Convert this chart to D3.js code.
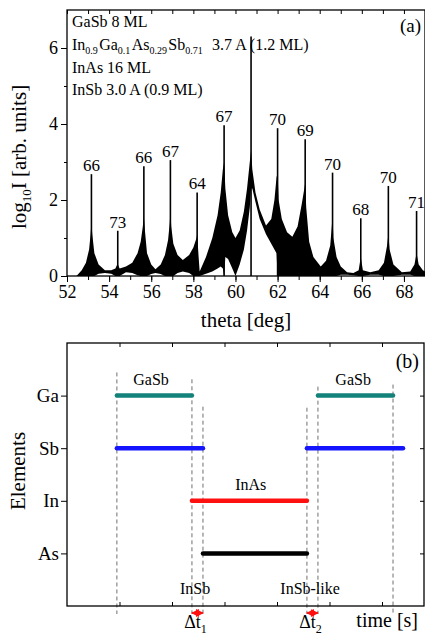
<!DOCTYPE html>
<html lang="en">
<head>
<meta charset="UTF-8">
<title>XRD + shutter sequence</title>
<script src="https://cdn.jsdelivr.net/npm/d3@7"></script>
<style>
  body { margin: 0; background: #fff; }
  svg text { font-family: "Liberation Serif", "Times New Roman", serif; fill: #000; }
  .frame { fill: none; stroke: #000; stroke-width: 1.3px; }
  .tick line { stroke: #000; }
  .dash { stroke: #6f6f6f; stroke-width: 1px; stroke-dasharray: 4,3; }
</style>
</head>
<body>
<div id="chart"></div>
<script>
// ---- panel (a) data: black envelope of the simulated curve ----
var theta = [52.45, 52.7, 52.9, 53.05, 53.12, 53.16, 53.2, 53.3, 53.5, 53.8, 54.1, 54.3, 54.4, 54.5, 54.8, 55.1,
  55.35, 55.5, 55.6, 55.65, 55.7, 55.8, 56.0, 56.2, 56.45, 56.65, 56.8, 56.88, 56.91, 56.95, 57.05, 57.25,
  57.5, 57.8, 58.0, 58.15, 58.18, 58.25, 58.3, 58.6, 58.9, 59.15, 59.3, 59.4, 59.46, 59.52, 59.65, 59.85,
  60.0, 60.2, 60.4, 60.55, 60.68, 60.74, 60.8, 60.95, 61.15, 61.45, 61.7, 61.85, 61.95, 62.0, 62.05, 62.2,
  62.45, 62.7, 62.95, 63.15, 63.27, 63.31, 63.36, 63.5, 63.7, 64.05, 64.3, 64.5, 64.61, 64.65, 64.8, 65.0,
  65.3, 65.6, 65.85, 65.95, 66.05, 66.4, 66.8, 67.05, 67.2, 67.26, 67.32, 67.5, 67.9, 68.3, 68.5, 68.6,
  68.7, 68.9, 69.0];
var upper = [0, 0.15, 0.35, 0.7, 1.1, 1.4, 1.1, 0.6, 0.3, 0.15, 0.15, 0.2, 0.32, 0.2, 0.25, 0.35,
  0.6, 0.9, 1.3, 1.55, 1.2, 0.6, 0.3, 0.18, 0.3, 0.55, 0.95, 1.4, 1.7, 1.3, 0.85, 0.55,
  0.42, 0.55, 0.75, 1.0, 1.1, 0.5, 0.12, 0.5, 1.0, 1.6, 2.2, 2.8, 3.0, 2.3, 1.6, 1.15,
  1.0, 1.2, 1.7, 2.3, 3.0, 3.3, 2.8, 2.2, 1.75, 1.33, 1.5, 2.0, 2.6, 2.7, 2.0, 1.5,
  1.15, 1.03, 1.3, 1.9, 2.3, 2.45, 1.8, 0.9, 0.5, 0.25, 0.4, 0.8, 1.55, 1.0, 0.5, 0.25,
  0.1, 0.08, 0.15, 0.5, 0.15, 0.1, 0.15, 0.35, 0.8, 1.1, 0.7, 0.3, 0.1, 0.12, 0.3, 0.6,
  0.3, 0.15, 0.12];
var lower = [0, 0, 0, 0, 0, 0, 0, 0, 0.06, 0.08, 0.06, 0, 0, 0, 0.1, 0.08,
  0.02, 0, 0, 0, 0, 0, 0.05, 0.08, 0.05, 0, 0, 0, 0, 0, 0, 0.08,
  0.12, 0.08, 0, 0, 0, 0, 0, 0.06, 0.12, 0.2, 0.25, 0.2, 0, 0.5, 0.45, 0.2,
  0, 0.3, 0.7, 1.2, 1.8, 2.3, 2.3, 1.95, 1.5, 1.1, 0.85, 0.7, 0.6, 0, 0, 0,
  0, 0, 0, 0, 0, 0, 0, 0, 0, 0, 0, 0, 0, 0, 0, 0.03,
  0.03, 0.02, 0, 0, 0, 0.03, 0.03, 0, 0, 0, 0, 0, 0.03, 0.03, 0, 0,
  0, 0, 0];

// narrow satellite spikes
var peakTheta = [53.16, 54.41, 55.65, 56.91, 58.18, 59.46, 60.74, 62.0, 63.31, 64.61, 65.95, 67.26, 68.6];
var peakTop   = [2.68, 1.19, 2.89, 3.05, 2.2, 3.97, 6.3, 3.89, 3.6, 2.72, 1.52, 2.37, 1.71];
var peakLabel = ["66", "73", "66", "67", "64", "67", "", "70", "69", "70", "68", "70", "71"];

var xTicksA = [52, 54, 56, 58, 60, 62, 64, 66, 68];
var yTicksA = [0, 2, 4, 6];

// ---- panel (b) data: shutter sequence ----
var elements = ["Ga", "Sb", "In", "As"];
var openings = [
  {el: "Ga", t0: 0.95, t1: 2.38}, {el: "Ga", t0: 4.78, t1: 6.21},
  {el: "Sb", t0: 0.95, t1: 2.59}, {el: "Sb", t0: 4.57, t1: 6.4},
  {el: "In", t0: 2.38, t1: 4.57},
  {el: "As", t0: 2.59, t1: 4.57}
];
var elColor = {Ga: "#13827a", Sb: "#1414ff", In: "#ff1010", As: "#000000"};
var eventTimes = [0.95, 2.38, 2.59, 4.57, 4.78, 6.21];
var eventTop   = [0.56, 0.69, 1.21, 1.23, 0.83, 0.79];   // in row units
var phaseLabels = [
  {text: "GaSb", t: 1.6, row: 0.8}, {text: "GaSb", t: 5.45, row: 0.8},
  {text: "InAs", t: 3.5, row: 2.8},
  {text: "InSb", t: 2.44, row: 4.77}, {text: "InSb-like", t: 4.63, row: 4.77}
];
var deltas = [{t0: 2.38, t1: 2.59, sub: "1"}, {t0: 4.57, t1: 4.78, sub: "2"}];

var W = 425, H = 638;
var svg = d3.select("#chart").append("svg").attr("width", W).attr("height", H);

// ================= panel (a) =================
var xa = d3.scaleLinear().domain([52, 69]).range([67, 425]);
var ya = d3.scaleLinear().domain([0, 7]).range([276, 10]);

svg.append("clipPath").attr("id", "clipA")
  .append("rect").attr("x", 67).attr("y", 10).attr("width", 358).attr("height", 266);

var gA = svg.append("g").attr("clip-path", "url(#clipA)");

var area = d3.area()
  .x(function(d, i) { return xa(theta[i]); })
  .y0(function(d, i) { return ya(lower[i]); })
  .y1(function(d, i) { return ya(upper[i]); });

gA.append("path").datum(theta).attr("d", area).attr("fill", "#000");

gA.selectAll("line.spike").data(peakTheta).enter().append("line")
  .attr("class", "spike")
  .attr("x1", function(d) { return xa(d); }).attr("x2", function(d) { return xa(d); })
  .attr("y1", ya(0)).attr("y2", function(d, i) { return ya(peakTop[i]); })
  .attr("stroke", "#000").attr("stroke-width", 1.6);

svg.selectAll("text.plab").data(peakTheta).enter().append("text")
  .attr("class", "plab")
  .attr("x", function(d) { return xa(d); })
  .attr("y", function(d, i) { return ya(peakTop[i]) - 3; })
  .attr("text-anchor", "middle").attr("font-size", 17)
  .text(function(d, i) { return peakLabel[i]; });

// axes
svg.append("g").attr("transform", "translate(0,276)")
  .call(d3.axisBottom(xa).tickValues(d3.range(52, 70, 1)).tickSize(4).tickFormat(""))
  .call(function(g) { g.select(".domain").remove(); });
svg.append("g").attr("transform", "translate(0,276)")
  .call(d3.axisBottom(xa).tickValues(xTicksA).tickSize(6).tickPadding(3).tickFormat(d3.format("d")))
  .call(function(g) { g.select(".domain").remove(); g.selectAll("text").attr("font-size", 18); });
svg.append("g").attr("transform", "translate(0,10)")
  .call(d3.axisBottom(xa).tickValues(d3.range(52, 70, 1)).tickSize(4).tickFormat(""))
  .call(function(g) { g.select(".domain").remove(); });

svg.append("g").attr("transform", "translate(67,0)")
  .call(d3.axisLeft(ya).tickValues([1, 3, 5]).tickSize(3).tickFormat(""))
  .call(function(g) { g.select(".domain").remove(); });
svg.append("g").attr("transform", "translate(67,0)")
  .call(d3.axisLeft(ya).tickValues(yTicksA).tickSize(6).tickPadding(3).tickFormat(d3.format("d")))
  .call(function(g) { g.select(".domain").remove(); g.selectAll("text").attr("font-size", 18); });

svg.append("rect").attr("class", "frame").attr("x", 67).attr("y", 10).attr("width", 358).attr("height", 266);

// axis titles
svg.append("text").attr("x", 246).attr("y", 327).attr("text-anchor", "middle")
  .attr("font-size", 21).text("theta [deg]");

var ylab = svg.append("text").attr("transform", "translate(26,157) rotate(-90)")
  .attr("text-anchor", "middle").attr("font-size", 21);
ylab.append("tspan").text("log");
ylab.append("tspan").attr("font-size", 13).attr("dy", 5).text("10");
ylab.append("tspan").attr("dy", -5).text("I [arb. units]");

// sample description
var info = svg.append("g").attr("font-size", 16);
info.append("text").attr("x", 72).attr("y", 27).text("GaSb 8 ML");
var l2 = info.append("text").attr("x", 72).attr("y", 50);
[["In", "0.9"], ["Ga", "0.1"], ["As", "0.29"], ["Sb", "0.71"]].forEach(function(p) {
  l2.append("tspan").text(p[0]);
  l2.append("tspan").attr("font-size", 10).attr("dy", 4).text(p[1]);
  l2.append("tspan").attr("dy", -4).text("\u200A");
});
l2.append("tspan").text("\u00A0 3.7 A (1.2 ML)");
info.append("text").attr("x", 72).attr("y", 72.5).text("InAs 16 ML");
info.append("text").attr("x", 72).attr("y", 95).text("InSb 3.0 A (0.9 ML)");

svg.append("text").attr("x", 421).attr("y", 32).attr("text-anchor", "end")
  .attr("font-size", 19).text("(a)");

// ================= panel (b) =================
var xb = d3.scaleLinear().domain([0, 6.8]).range([67, 424]);
var yb = d3.scaleLinear().domain([0, 5]).range([343, 606]);
var rowY = function(el) { return yb(elements.indexOf(el) + 1); };

// dashed time markers
svg.selectAll("line.dash").data(eventTimes).enter().append("line")
  .attr("class", "dash")
  .attr("x1", function(d) { return xb(d); }).attr("x2", function(d) { return xb(d); })
  .attr("y1", function(d, i) { return yb(eventTop[i]); }).attr("y2", 614);

// shutter bars
svg.selectAll("line.bar").data(openings).enter().append("line")
  .attr("class", "bar")
  .attr("x1", function(d) { return xb(d.t0); }).attr("x2", function(d) { return xb(d.t1); })
  .attr("y1", function(d) { return rowY(d.el); }).attr("y2", function(d) { return rowY(d.el); })
  .attr("stroke", function(d) { return elColor[d.el]; })
  .attr("stroke-width", 4.5).attr("stroke-linecap", "round");

svg.selectAll("text.phase").data(phaseLabels).enter().append("text")
  .attr("class", "phase")
  .attr("x", function(d) { return xb(d.t); }).attr("y", function(d) { return yb(d.row); })
  .attr("text-anchor", "middle").attr("font-size", 16)
  .text(function(d) { return d.text; });

// frame + ticks
svg.append("g").attr("transform", "translate(67,0)")
  .call(d3.axisLeft(yb).tickValues([1, 2, 3, 4]).tickSize(6).tickPadding(2)
    .tickFormat(function(d) { return elements[d - 1]; }))
  .call(function(g) { g.select(".domain").remove(); g.selectAll("text").attr("font-size", 19); });
svg.append("g").attr("transform", "translate(424,0)")
  .call(d3.axisRight(yb).tickValues([1, 2, 3, 4]).tickSize(-4).tickFormat(""))
  .call(function(g) { g.select(".domain").remove(); });
svg.append("g").attr("transform", "translate(0,343)")
  .call(d3.axisBottom(xb).tickValues(d3.range(1, 7)).tickSize(4).tickFormat(""))
  .call(function(g) { g.select(".domain").remove(); });
svg.append("g").attr("transform", "translate(0,606)")
  .call(d3.axisTop(xb).tickValues(d3.range(1, 7)).tickSize(4).tickFormat(""))
  .call(function(g) { g.select(".domain").remove(); });

svg.append("rect").attr("class", "frame").attr("x", 67).attr("y", 343).attr("width", 357).attr("height", 263);

// delta-t arrows
var defs = svg.append("defs");
defs.append("marker").attr("id", "arr").attr("viewBox", "0 0 10 10")
  .attr("refX", 9).attr("refY", 5).attr("markerWidth", 5).attr("markerHeight", 5)
  .attr("orient", "auto-start-reverse")
  .append("path").attr("d", "M0,0 L10,5 L0,10 z").attr("fill", "#ff1010");

svg.selectAll("line.dt").data(deltas).enter().append("line")
  .attr("class", "dt")
  .attr("x1", function(d) { return xb(d.t0); }).attr("x2", function(d) { return xb(d.t1); })
  .attr("y1", 613).attr("y2", 613)
  .attr("stroke", "#ff1010").attr("stroke-width", 1.6)
  .attr("marker-start", "url(#arr)").attr("marker-end", "url(#arr)");

deltas.forEach(function(d) {
  var t = svg.append("text").attr("x", xb((d.t0 + d.t1) / 2) - 2).attr("y", 628)
    .attr("text-anchor", "middle").attr("font-size", 18);
  t.append("tspan").text("\u0394t");
  t.append("tspan").attr("font-size", 12).attr("dy", 5).text(d.sub);
});

svg.append("text").attr("x", 418).attr("y", 627).attr("text-anchor", "end")
  .attr("font-size", 20).text("time [s]");

svg.append("text").attr("transform", "translate(25,471) rotate(-90)")
  .attr("text-anchor", "middle").attr("font-size", 21).text("Elements");

svg.append("text").attr("x", 419).attr("y", 368).attr("text-anchor", "end")
  .attr("font-size", 20).text("(b)");
</script>
</body>
</html>
